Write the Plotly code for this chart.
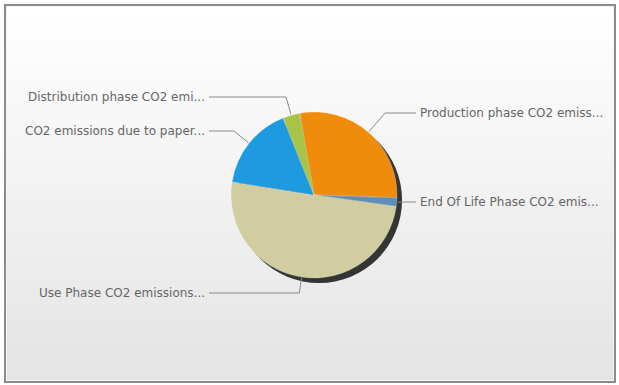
import math
import plotly.graph_objects as go

# ---- data ----
labels = [
    "Production phase CO2 emissions",
    "End Of Life Phase CO2 emissions",
    "Use Phase CO2 emissions",
    "CO2 emissions due to paper",
    "Distribution phase CO2 emissions",
]
short_labels = [
    "Production phase CO2 emiss...",
    "End Of Life Phase CO2 emis...",
    "Use Phase CO2 emissions...",
    "CO2 emissions due to paper...",
    "Distribution phase CO2 emi...",
]
values = [28.3, 1.7, 50.3, 16.4, 3.3]
colors = ["#F08C0C", "#5F8FB8", "#D1CDA0", "#1E9AE0", "#A8C448"]

# ---- layout config ----
W, H = 619, 385
CX, CY, R = 314, 195, 83
START_DEG = -10  # first slice starts slightly left of 12 o'clock
label_y = [113, 202, 293, 131, 97]       # pixel y of each label
label_side = ["right", "right", "left", "left", "left"]
LEFT_X, RIGHT_X = 207, 418

def px(x):
    return x / W

def py(y):
    return 1 - y / H

fig = go.Figure()

shapes = []
# outer frame
shapes.append(dict(type="rect", xref="paper", yref="paper", x0=px(5), x1=px(615), y0=py(382), y1=py(5),
                   line=dict(color="#8c8c8c", width=2), fillcolor="#f4f4f4", layer="below"))
# gradient bands
n = 40
top, bot = 7, 380
for i in range(n):
    y0 = top + (bot - top) * i / n
    y1 = top + (bot - top) * (i + 1) / n
    t = i / (n - 1)
    c = int(round(255 - t * (255 - 228)))
    shapes.append(dict(type="rect", xref="paper", yref="paper", x0=px(7), x1=px(613), y0=py(y1), y1=py(y0),
                       line=dict(width=0), fillcolor=f"rgb({c},{c},{c})", layer="below"))

# shadow pie (one slice, total)
sh = 5
fig.add_trace(go.Pie(values=[sum(values)], marker=dict(colors=["rgba(20,20,20,0.85)"], line=dict(width=0)),
                     domain=dict(x=[px(CX - R + sh), px(CX + R + sh)], y=[py(CY + R + sh), py(CY - R + sh)]),
                     textinfo="none", hoverinfo="skip", showlegend=False, sort=False))

fig.add_trace(go.Pie(labels=labels, values=values, sort=False, direction="clockwise", rotation=START_DEG,
                     marker=dict(colors=colors, line=dict(color="rgba(255,255,255,0.5)", width=0.5)),
                     domain=dict(x=[px(CX - R), px(CX + R)], y=[py(CY + R), py(CY - R)]),
                     textinfo="none", showlegend=False))

# leader lines and labels computed from slice mid-angles
total = sum(values)
cum = 0
annotations = []
for v, lab, ly, side in zip(values, short_labels, label_y, label_side):
    mid = START_DEG + (cum + v / 2) / total * 360
    cum += v
    a = math.radians(mid)
    dx, dy = math.sin(a), -math.cos(a)
    p0 = (CX + (R + 1) * dx, CY + (R + 1) * dy)
    if abs(dy) > 0.2:
        t = (ly - p0[1]) / dy
        t = max(t, 0)
        elb = (p0[0] + t * dx, ly)
    else:
        elb = (p0[0] + 4 * dx, ly)
    endx = LEFT_X + 2 if side == "left" else RIGHT_X - 2
    path = f"M {px(p0[0])},{py(p0[1])} L {px(elb[0])},{py(elb[1])} L {px(endx)},{py(ly)}"
    shapes.append(dict(type="path", xref="paper", yref="paper", path=path,
                       line=dict(color="#8a8a8a", width=1)))
    annotations.append(dict(xref="paper", yref="paper", x=px(LEFT_X if side == "left" else RIGHT_X), y=py(ly),
                            text=lab, showarrow=False, xanchor="right" if side == "left" else "left",
                            yanchor="middle", font=dict(family="DejaVu Sans", size=12, color="#666666")))

fig.update_layout(width=W, height=H, margin=dict(l=0, r=0, t=0, b=0),
                  paper_bgcolor="white", plot_bgcolor="white",
                  shapes=shapes, annotations=annotations)
fig.write_html("out.html", config={"displayModeBar": False},
               post_script="document.body.style.margin='0';")
